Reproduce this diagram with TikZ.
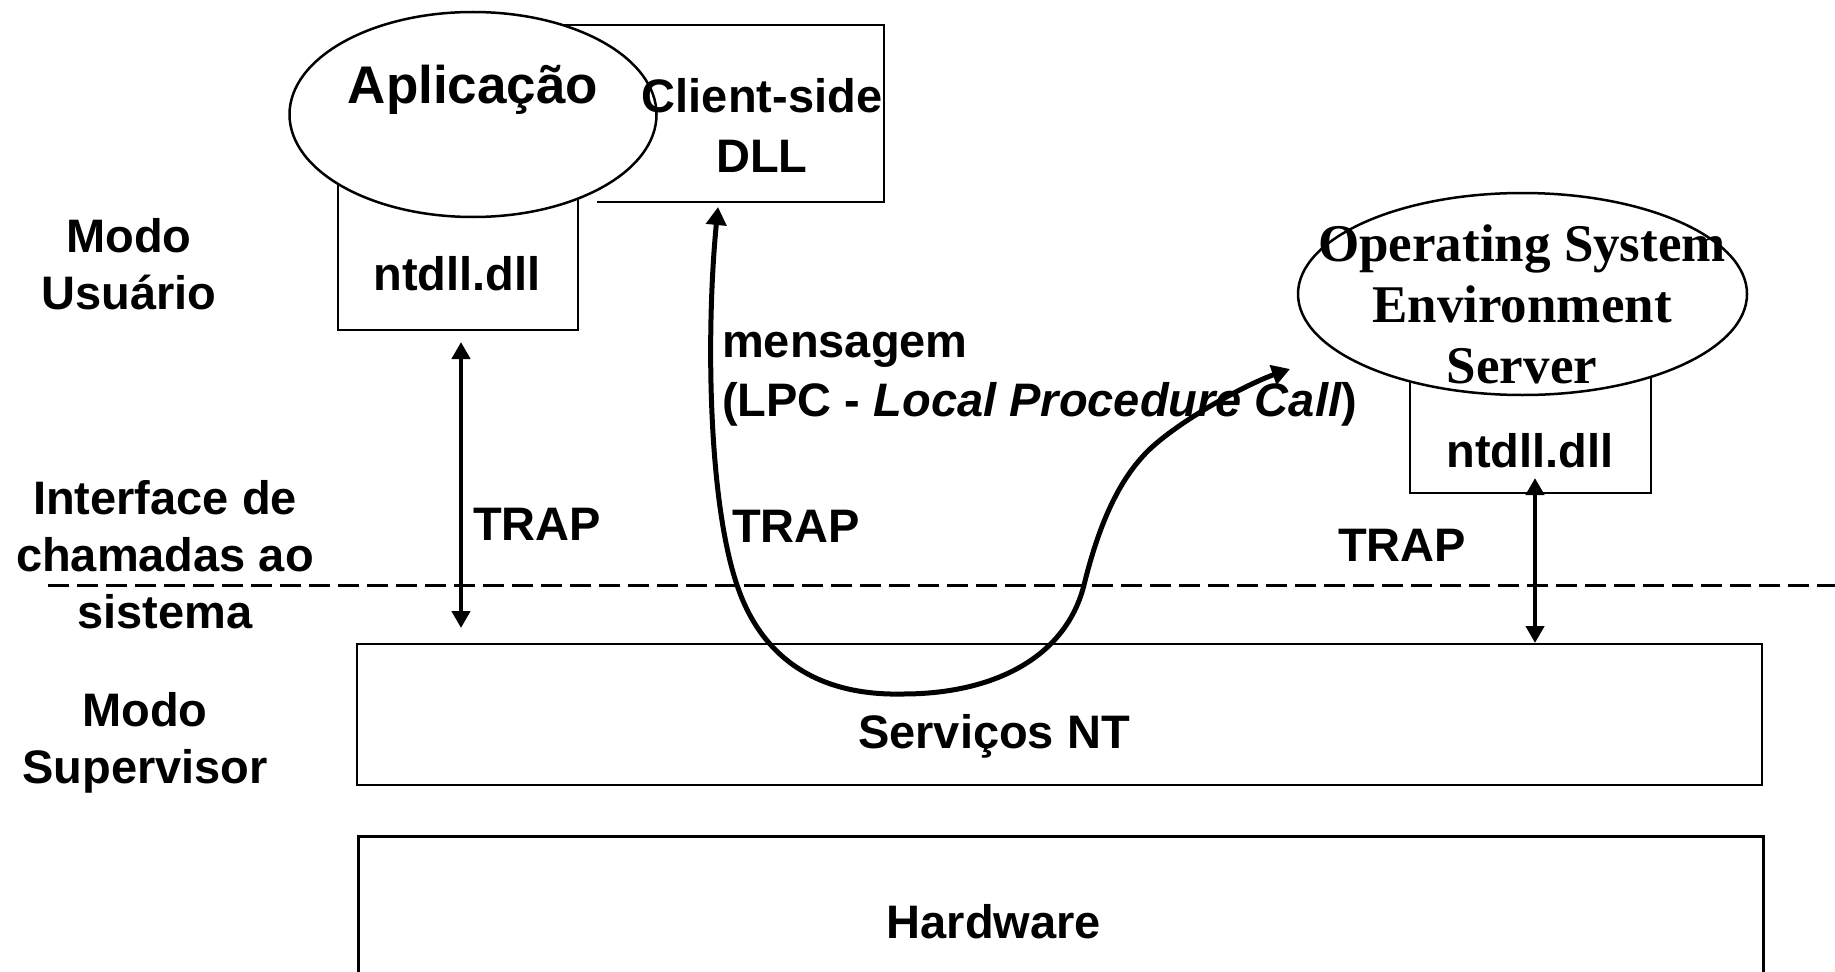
\documentclass[tikz,border=0pt]{standalone}
\usepackage{fontspec}
\setmainfont{Liberation Sans}
\newfontfamily\tmsfont{Liberation Serif}
\usetikzlibrary{arrows.meta,shapes.geometric}
\begin{document}
\begin{tikzpicture}[x=1pt,y=-1pt,
  box/.style={draw, line width=2.5pt, inner sep=0pt},
  oval/.style={draw, ellipse, fill=white, line width=2.5pt, inner sep=0pt},
  lbl/.style={font=\fontsize{47}{57}\selectfont\bfseries, inner sep=0pt, align=center},
  biglbl/.style={font=\fontsize{53}{60}\selectfont\bfseries, inner sep=0pt},
  serif/.style={font={\fontsize{53}{61}\tmsfont\bfseries}, inner sep=0pt, align=center},
  dbl/.style={line width=4.5pt, {Triangle[length=17pt,width=18pt]}-{Triangle[length=17pt,width=18pt]}},
  lpcarrow/.style={line width=5pt, {Triangle[length=18pt,width=20pt]}-{Triangle[length=18pt,width=20pt]}},
  sep/.style={line width=3pt, dash pattern=on 21pt off 8pt}
]
\useasboundingbox (0,0) rectangle (1835,971);

% boxes behind ellipses
\node[box, minimum width=240, minimum height=200] (ntA) at (458,230) {};
\coordinate (cdA) at (560,25);
\coordinate (cdB) at (884,25);
\coordinate (cdC) at (884,202);
\coordinate (cdD) at (597,202);
\draw[line width=2.5pt] (cdA) -- (cdB) -- (cdC) -- (cdD);
\node[box, minimum width=241, minimum height=200] (ntB) at (1530.5,393) {};

% ellipses
\node[oval, minimum width=367, minimum height=205] (app) at (473,114.5) {};
\node[oval, minimum width=449, minimum height=202] (oses) at (1522.5,294) {};

% lower boxes
\node[box, minimum width=1405, minimum height=141] (serv) at (1059.5,714.5) {};
\node[box, minimum width=1405, minimum height=200, anchor=north west] (hw) at (357,835) {};

% texts
\node[biglbl, anchor=base] (apptxt) at (473,103) {Aplicação};
\node[lbl, font=\fontsize{47}{60}\selectfont\bfseries] (cdtxt) at (762,125) {Client-side\\DLL};
\node[lbl, anchor=base] (ntAtxt) at (457,290) {ntdll.dll};
\node[serif] (ostxt) at (1522,304) {Operating System\\Environment\\Server};
\node[lbl, anchor=base] (ntBtxt) at (1530,467) {ntdll.dll};
\node[lbl] (mu) at (129,264.5) {Modo\\Usuário};
\node[lbl] (ifc) at (165,554.5) {Interface de\\chamadas ao\\sistema};
\node[lbl] (ms) at (145,743) {Modo\\Supervisor};
\node[lbl, anchor=base] (servtxt) at (994,748) {Serviços NT};
\node[lbl, anchor=base] (hwtxt) at (994,938) {Hardware};
\node[lbl, anchor=base] (trapA) at (537,540) {TRAP};
\node[lbl, anchor=base] (trapB) at (796,542) {TRAP};
\node[lbl, anchor=base] (trapC) at (1402,561) {TRAP};
\node[lbl, anchor=base west] (msg) at (722,357) {mensagem};
\node[lbl, anchor=base west] (lpc) at (722,416) {(LPC - \textit{Local Procedure Call})};

% separator
\coordinate (dashL) at (48,585);
\coordinate (dashR) at (1835,585);
\draw[sep] (dashL) -- (dashR);

% TRAP arrows
\coordinate (tA1) at (461,342);
\coordinate (tA2) at (461,628);
\draw[dbl] (tA1) -- (tA2);
\coordinate (tC1) at (1535,478);
\coordinate (tC2) at (1535,643);
\draw[dbl] (tC1) -- (tC2);

% LPC curve
\coordinate (lpcS) at (718,207);
\coordinate (lpcE) at (1290,369);
\draw[lpcarrow] (lpcS) .. controls (706,330) and (708,500) .. (737,585)
  .. controls (762,660) and (820,696) .. (903,694)
  .. controls (990,694) and (1065,660) .. (1084,585)
  .. controls (1100,520) and (1121,476) .. (1151,448)
  .. controls (1186,416) and (1250,383) .. (lpcE);
\end{tikzpicture}
\end{document}
